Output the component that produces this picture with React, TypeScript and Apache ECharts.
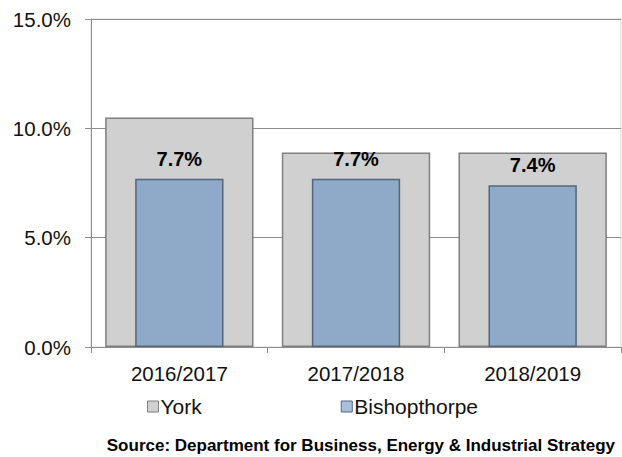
import React, { useEffect, useRef } from "react";
import * as echarts from "echarts";

const categories = ["2016/2017", "2017/2018", "2018/2019"];
const yorkValues = [10.5, 8.9, 8.9];
const bishopthorpeValues = [7.7, 7.7, 7.4];
const yTicks = { min: 0, max: 15, interval: 5 };
const sourceText = "Source: Department for Business, Energy & Industrial Strategy";

export default function App() {
  const ref = useRef<HTMLDivElement>(null);
  useEffect(() => {
    if (!ref.current) return;
    const chart = echarts.init(ref.current, null, { renderer: "svg" });
    const font = "Liberation Sans, Arial, sans-serif";
    const xAxisBase = {
      type: "category",
      data: categories,
      boundaryGap: true,
    };
    chart.setOption({
      animation: false,
      textStyle: { fontFamily: font },
      grid: {
        left: 91,
        right: 1,
        top: 19,
        bottom: 110,
        show: true,
        borderColor: "#d9d9d9",
        borderWidth: 1,
      },
      xAxis: [
        {
          ...xAxisBase,
          axisLine: { show: true, lineStyle: { color: "#8c8c8c", width: 1 } },
          axisTick: { show: true, length: 6, lineStyle: { color: "#8c8c8c" } },
          axisLabel: { fontSize: 20.5, color: "#111", margin: 16, fontFamily: font },
        },
        {
          ...xAxisBase,
          show: false,
        },
      ],
      yAxis: {
        type: "value",
        min: yTicks.min,
        max: yTicks.max,
        interval: yTicks.interval,
        axisLine: { show: true, lineStyle: { color: "#8c8c8c", width: 1 } },
        axisTick: { show: true, length: 6, lineStyle: { color: "#8c8c8c" } },
        axisLabel: {
          fontSize: 20.5,
          color: "#111",
          margin: 20,
          fontFamily: font,
          formatter: (v: number) => v.toFixed(1) + "%",
        },
        splitLine: { show: true, lineStyle: { color: "#8c8c8c", width: 1 } },
      },
      legend: {
        left: 147,
        top: 396,
        padding: 0,
        itemWidth: 11,
        itemHeight: 11,
        itemGap: 139,
        icon: "rect",
        textStyle: { fontSize: 21, color: "#111", fontFamily: font, padding: [0, 0, 0, -3] },
        data: [
          { name: "York", itemStyle: { color: "#d0d0d0", borderColor: "#7f7f7f", borderWidth: 1 } },
          { name: "Bishopthorpe", itemStyle: { color: "#a9c0dc", borderColor: "#56657a", borderWidth: 1 } },
        ],
      },
      series: [
        {
          name: "York",
          type: "bar",
          xAxisIndex: 0,
          data: yorkValues,
          barWidth: "84%",
          itemStyle: { color: "#d0d0d0", borderColor: "#7f7f7f", borderWidth: 1.5 },
          z: 1,
        },
        {
          name: "Bishopthorpe",
          type: "bar",
          xAxisIndex: 1,
          data: bishopthorpeValues,
          barWidth: "50%",
          itemStyle: { color: "#8eaac8", borderColor: "#56657a", borderWidth: 1.5 },
          label: {
            show: true,
            position: "top",
            distance: 10,
            fontSize: 20,
            fontWeight: "bold",
            color: "#000",
            fontFamily: font,
            formatter: (p: any) => p.value.toFixed(1) + "%",
          },
          z: 2,
        },
      ],
      graphic: [
        {
          type: "text",
          right: 7,
          top: 437,
          style: {
            text: sourceText,
            fontSize: 17,
            fontWeight: "bold",
            fill: "#000",
            fontFamily: font,
          },
        },
      ],
    });
    return () => chart.dispose();
  }, []);
  return (
    <div
      ref={ref}
      style={{ position: "absolute", left: 0, top: 0, width: 622, height: 457, background: "#fff" }}
    />
  );
}
